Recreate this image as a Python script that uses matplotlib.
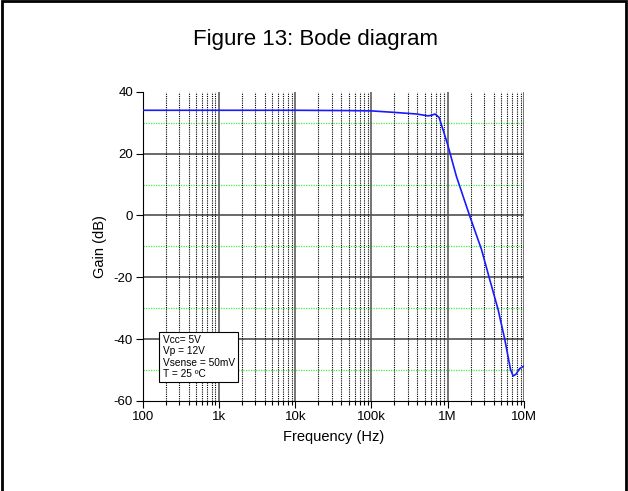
import numpy as np
import matplotlib
matplotlib.use("Agg")
import matplotlib.pyplot as plt
from matplotlib.patches import Rectangle
from matplotlib.ticker import LogLocator, FixedLocator

plt.rcParams['font.family'] = ['Liberation Sans', 'DejaVu Sans']
plt.rcParams['axes.unicode_minus'] = False

# Gain response
freq_hz = [100, 1e3, 1e4, 5e4, 1e5, 1.9e5, 3.9e5, 5.5e5, 6.2e5, 6.8e5, 7.7e5, 8.7e5,
           1e6, 1.3e6, 1.95e6, 2.77e6, 3.55e6, 4.57e6, 5.6e6, 6.65e6, 7.2e6, 7.8e6, 8.8e6, 1e7]
gain_db = [34, 34, 34, 33.9, 33.8, 33.35, 32.8, 32.2, 32.4, 32.8, 31.7, 27.6,
           22.8, 12.6, -0.3, -11, -20.7, -30.4, -40.1, -49.8, -51.9, -51.4, -49.5, -48.7]

x_ticks = [1e2, 1e3, 1e4, 1e5, 1e6, 1e7]
x_labels = ["100", "1k", "10k", "100k", "1M", "10M"]
y_ticks = [-60, -40, -20, 0, 20, 40]
major_h = [-40, -20, 0, 20]
minor_h = [-50, -30, -10, 10, 30]
conditions = "Vcc= 5V\nVp = 12V\nVsense = 50mV\nT = 25 ºC"

fig = plt.figure(figsize=(6.28, 4.91), dpi=100)
ax = fig.add_axes([0.2272, 0.1833, 0.6072, 0.6299])

# outer frame
fig.patches.append(Rectangle((0.003, -0.02), 0.994, 1.017, transform=fig.transFigure,
                             fill=False, edgecolor='black', linewidth=2))

ax.set_xscale('log')
ax.set_xlim(1e2, 1e7)
ax.set_ylim(-60, 40)

# grid
for v in major_h:
    ax.axhline(v, color='#404040', linewidth=1.1, zorder=1)
for v in minor_h:
    ax.axhline(v, color='#44ee44', linewidth=0.9, linestyle=(0, (1, 1)), zorder=1)

ax.xaxis.set_major_locator(FixedLocator(x_ticks))
ax.set_xticklabels(x_labels)
ax.xaxis.set_minor_locator(LogLocator(base=10, subs=np.arange(2, 10)))
ax.xaxis.set_minor_formatter(plt.NullFormatter())
ax.grid(True, which='major', axis='x', color='#505050', linewidth=1.1, zorder=1)
ax.grid(True, which='minor', axis='x', color='black', linewidth=0.8, linestyle=(0, (1, 1)), zorder=1)
ax.set_yticks(y_ticks)

ax.plot(freq_hz, gain_db, color='#1a1aff', linewidth=1.2, zorder=3)

ax.spines['top'].set_visible(False)
ax.spines['right'].set_visible(False)
ax.tick_params(axis='both', which='major', direction='out', length=5, width=0.8, labelsize=9.5, pad=2)
ax.tick_params(axis='x', which='minor', direction='out', length=3, width=0.8)

ax.set_xlabel("Frequency (Hz)", fontsize=10.5, labelpad=5)
ax.set_ylabel("Gain (dB)", fontsize=10.5, labelpad=5)

ax.text(0.052, 0.213, conditions, transform=ax.transAxes, fontsize=7.3, va='top', ha='left',
        linespacing=1.15, zorder=5,
        bbox=dict(boxstyle='square,pad=0.35', facecolor='white', edgecolor='black', linewidth=0.8))

fig.text(0.503, 0.92, "Figure 13: Bode diagram", ha='center', va='center', fontsize=16)

fig.savefig("out.png", dpi=100)
